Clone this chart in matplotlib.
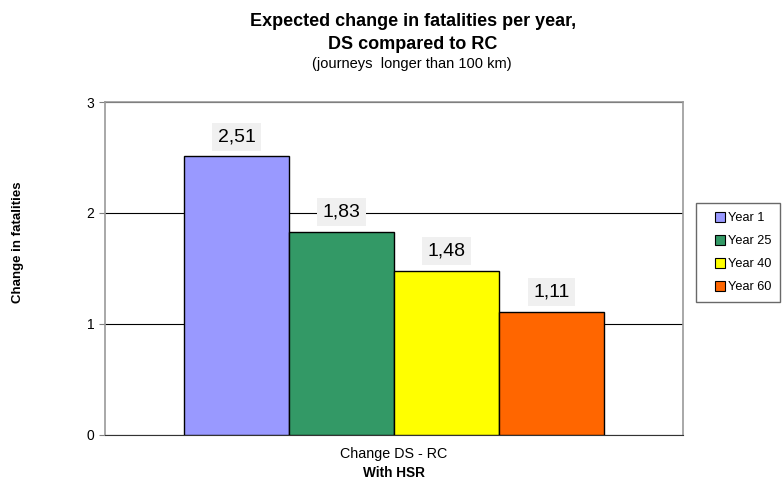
import numpy as np
import matplotlib.pyplot as plt
from matplotlib.lines import Line2D

plt.rcParams['font.family'] = ['Liberation Sans', 'DejaVu Sans']

series = ['Year 1', 'Year 25', 'Year 40', 'Year 60']
values = [2.51, 1.83, 1.48, 1.11]
labels = ['2,51', '1,83', '1,48', '1,11']
colors = ['#9999ff', '#339966', '#ffff00', '#ff6600']

fig = plt.figure(figsize=(7.83, 4.79), dpi=100)
ax = fig.add_axes([0.1341, 0.092, 0.7382, 0.695])

w = 0.1817
offsets = (np.arange(len(values)) - 1.5) * w
for x, v, lab, c in zip(offsets, values, labels, colors):
    ax.bar(x, v, width=w, color=c, edgecolor='black', linewidth=1, zorder=3)
    ax.text(x, v + 0.1, lab, ha='center', va='bottom', fontsize=14,
            bbox=dict(facecolor='#f0f0f0', edgecolor='none', pad=4), zorder=4)

ax.set_xlim(-0.5, 0.5)
ax.set_ylim(0, 3)
ax.set_yticks([0, 1, 2, 3])
ax.set_yticklabels(['0', '1', '2', '3'], fontsize=10)
ax.yaxis.grid(True, color='black', linewidth=0.8, zorder=0)
ax.set_xticks([0])
ax.set_xticklabels(['Change DS - RC'], fontsize=10.3)
ax.tick_params(axis='x', length=0, pad=9)
ax.tick_params(axis='y', length=4, color='gray')
ax.set_xlabel('With HSR', fontsize=9.8, fontweight='bold', labelpad=3)
for sp in ['top', 'right', 'left']:
    ax.spines[sp].set_color('#999999')
    ax.spines[sp].set_linewidth(1.2)
ax.spines['bottom'].set_color('#333333')

fig.text(18 / 783, 1 - 242 / 479, 'Change in fatalities', rotation=90, ha='center',
         va='center', fontsize=9.5, fontweight='bold')

fig.text(0.527, 0.956, 'Expected change in fatalities per year,', ha='center', va='center',
         fontsize=13, fontweight='bold')
fig.text(0.527, 0.908, 'DS compared to RC', ha='center', va='center',
         fontsize=13, fontweight='bold')
fig.text(0.526, 0.866, '(journeys  longer than 100 km)', ha='center', va='center', fontsize=10.5)

handles = [Line2D([], [], linestyle='none', marker='s', markersize=6.5, markerfacecolor=c,
                  markeredgecolor='black', markeredgewidth=0.8) for c in colors]
leg = ax.legend(handles, series, loc='upper left', bbox_to_anchor=(1.0225, 0.697),
                borderaxespad=0, fontsize=9.2, frameon=True, fancybox=False,
                edgecolor='#444444', handlelength=2.3, handletextpad=-0.55,
                labelspacing=0.86, borderpad=0.72)
leg.get_frame().set_linewidth(1.0)

plt.savefig('out.png', dpi=100)
